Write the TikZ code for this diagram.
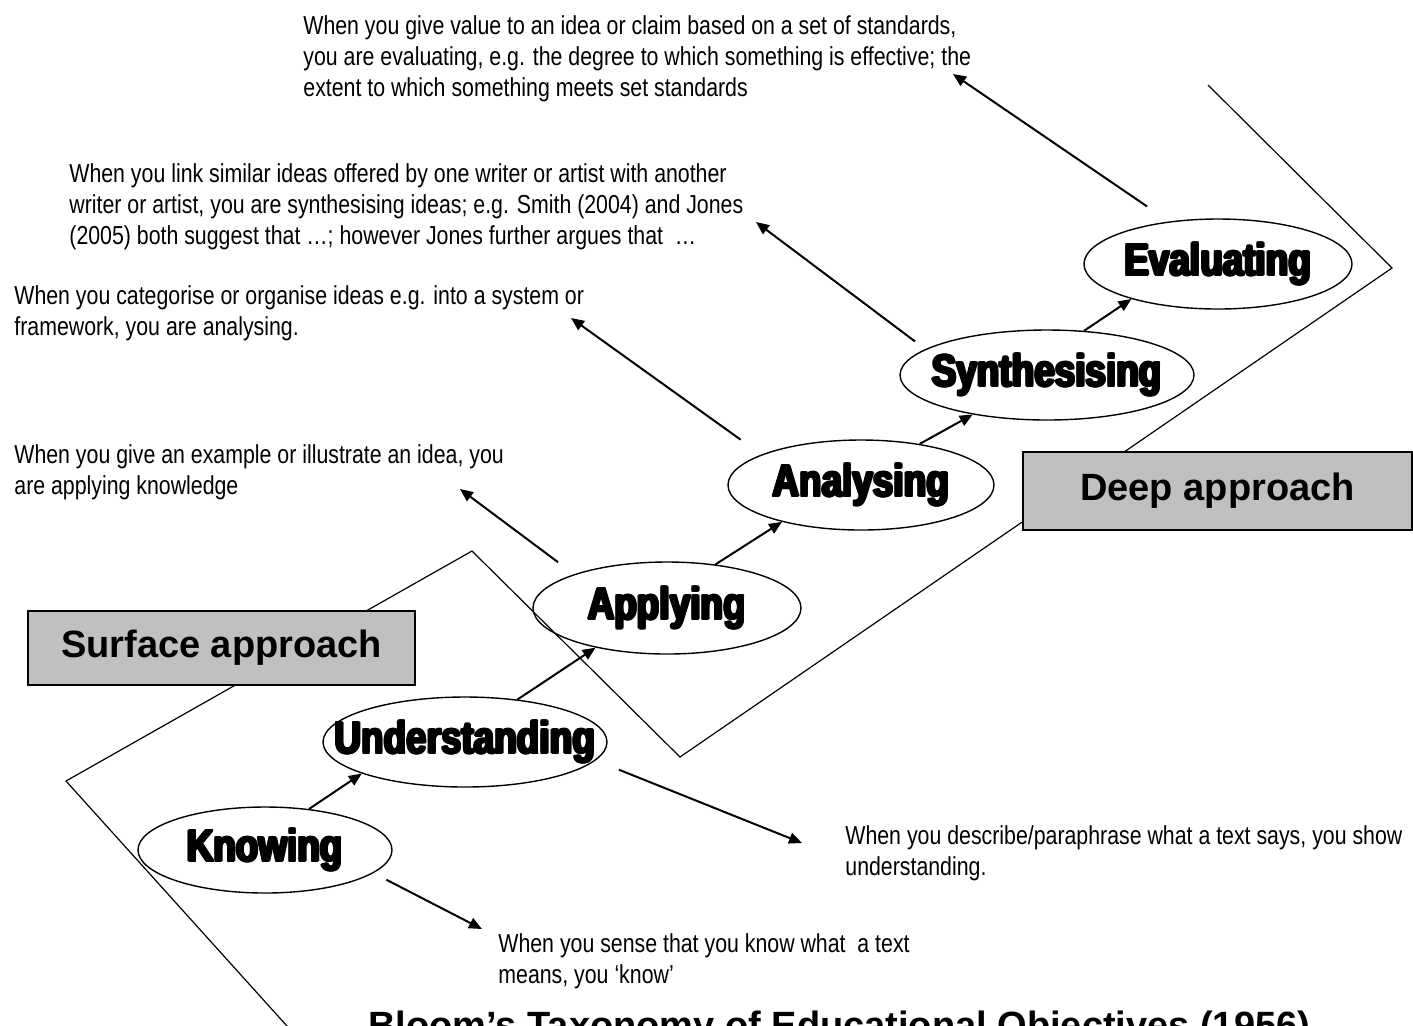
\documentclass[tikz,border=0pt]{standalone}
\usepackage{fontspec}
\setmainfont{Liberation Sans}
\newfontfamily\bodyfont[FakeStretch=0.82]{Liberation Sans}
\newfontface\heavyfont[FakeStretch=0.82]{Liberation Sans Bold}
\usetikzlibrary{shapes.geometric,arrows.meta}
\definecolor{boxgray}{HTML}{C0C0C0}
\newcommand\heavycopy[3]{\rlap{\hspace{#1}\raisebox{#2}{#3}}}
\newcommand\heavytxt[1]{\makebox[0pt]{%
  \heavycopy{-0.7pt}{0pt}{#1}\heavycopy{0.7pt}{0pt}{#1}%
  \heavycopy{0pt}{0.7pt}{#1}\heavycopy{0pt}{-0.7pt}{#1}%
  \heavycopy{-0.5pt}{0.5pt}{#1}\heavycopy{0.5pt}{0.5pt}{#1}%
  \heavycopy{-0.5pt}{-0.5pt}{#1}\heavycopy{0.5pt}{-0.5pt}{#1}%
  #1}}
\begin{document}
\begin{tikzpicture}[x=0.5pt,y=-0.5pt,
  stagebox/.style={ellipse,draw,line width=0.7pt,inner sep=0pt,font=\heavyfont\fontsize{22.5}{22.5}\selectfont},
  desc/.style={anchor=north west,inner sep=0pt,align=left,font=\bodyfont\fontsize{13}{15.5}\selectfont},
  approach/.style={draw=black,line width=0.8pt,fill=boxgray,inner sep=0pt,font=\bfseries\fontsize{19}{19}\selectfont},
  conn/.style={line width=1pt,-{Triangle[length=6.5pt,width=5.5pt]}},
  outline/.style={line width=0.6pt}]
\useasboundingbox (0,0) rectangle (1413,1025);
\fill[white] (0,0) rectangle (1413,1025);

% outline of the two approaches
\coordinate (s0) at (296,1036);
\coordinate (s1) at (66,781);
\coordinate (s2) at (472,551);
\coordinate (s3) at (680,757);
\coordinate (s4) at (1392,268);
\coordinate (s5) at (1208,85);
\draw[outline] (s0) -- (s1) -- (s2) -- (s3) -- (s4) -- (s5);

% approach boxes
\node[approach,minimum width=193.5pt,minimum height=37pt] (surface) at (221.5,648) {Surface approach};
\node[approach,minimum width=194.5pt,minimum height=39pt] (deep) at (1217.5,491) {Deep approach};

% levels
\node[stagebox,minimum width=127pt,minimum height=43pt] (knowing) at (265,850) {\heavytxt{Knowing}};
\node[stagebox,minimum width=142pt,minimum height=45pt] (understanding) at (465,742) {\heavytxt{Understanding}};
\node[stagebox,minimum width=134pt,minimum height=46pt] (applying) at (667,608) {\heavytxt{Applying}};
\node[stagebox,minimum width=133pt,minimum height=45pt] (analysing) at (861,485) {\heavytxt{Analysing}};
\node[stagebox,minimum width=147pt,minimum height=45pt] (synthesising) at (1047,375) {\heavytxt{Synthesising}};
\node[stagebox,minimum width=134pt,minimum height=45pt] (evaluating) at (1218,264) {\heavytxt{Evaluating}};

% descriptions
\node[desc] (evaltext) at (303,15) {When you give value to an idea or claim based on a set of standards,\\you are evaluating, e.g. the degree to which something is effective; the\\extent to which something meets set standards};
\node[desc] (synthtext) at (69,163) {When you link similar ideas offered by one writer or artist with another\\writer or artist, you are synthesising ideas; e.g. Smith (2004) and Jones\\(2005) both suggest that …; however Jones further argues that\ \ …};
\node[desc] (analtext) at (14,285) {When you categorise or organise ideas e.g. into a system or\\framework, you are analysing.};
\node[desc] (applytext) at (14,444) {When you give an example or illustrate an idea, you\\are applying knowledge};
\node[desc] (undtext) at (845,825) {When you describe/paraphrase what a text says, you show\\understanding.};
\node[desc] (knowtext) at (498,933) {When you sense that you know what\ \ a text\\means, you ‘know’};

\node[anchor=base west,inner sep=0pt,font=\bfseries\fontsize{19}{19}\selectfont] (title) at (368,1038) {Bloom’s Taxonomy of Educational Objectives (1956)};

% arrow tips near the descriptions
\coordinate (knowtip) at (482,929);
\coordinate (undtip) at (802,843);
\coordinate (applytip) at (460,489);
\coordinate (analtip) at (571,318);
\coordinate (synthtip) at (756,222);
\coordinate (evaltip) at (953,74);

% progression arrows
\draw[conn] (knowing.43) -- (understanding.197.7);
\draw[conn] (understanding.39) -- (applying.209);
\draw[conn] (applying.42.6) -- (analysing.205.8);
\draw[conn] (analysing.35.5) -- (synthesising.208.4);
\draw[conn] (synthesising.50) -- (evaluating.202);

% description arrows
\draw[conn,shorten <=7.25pt] (knowing.-12.5) -- (knowtip);
\draw[conn,shorten <=12.5pt] (understanding.-8.2) -- (undtip);
\draw[conn,shorten <=10pt] (applying.160.7) -- (applytip);
\draw[conn,shorten <=12.75pt] (analysing.163.1) -- (analtip);
\draw[conn,shorten <=6.4pt] (synthesising.168.9) -- (synthtip);
\draw[conn,shorten <=13.35pt] (evaluating.139.5) -- (evaltip);
\end{tikzpicture}
\end{document}
